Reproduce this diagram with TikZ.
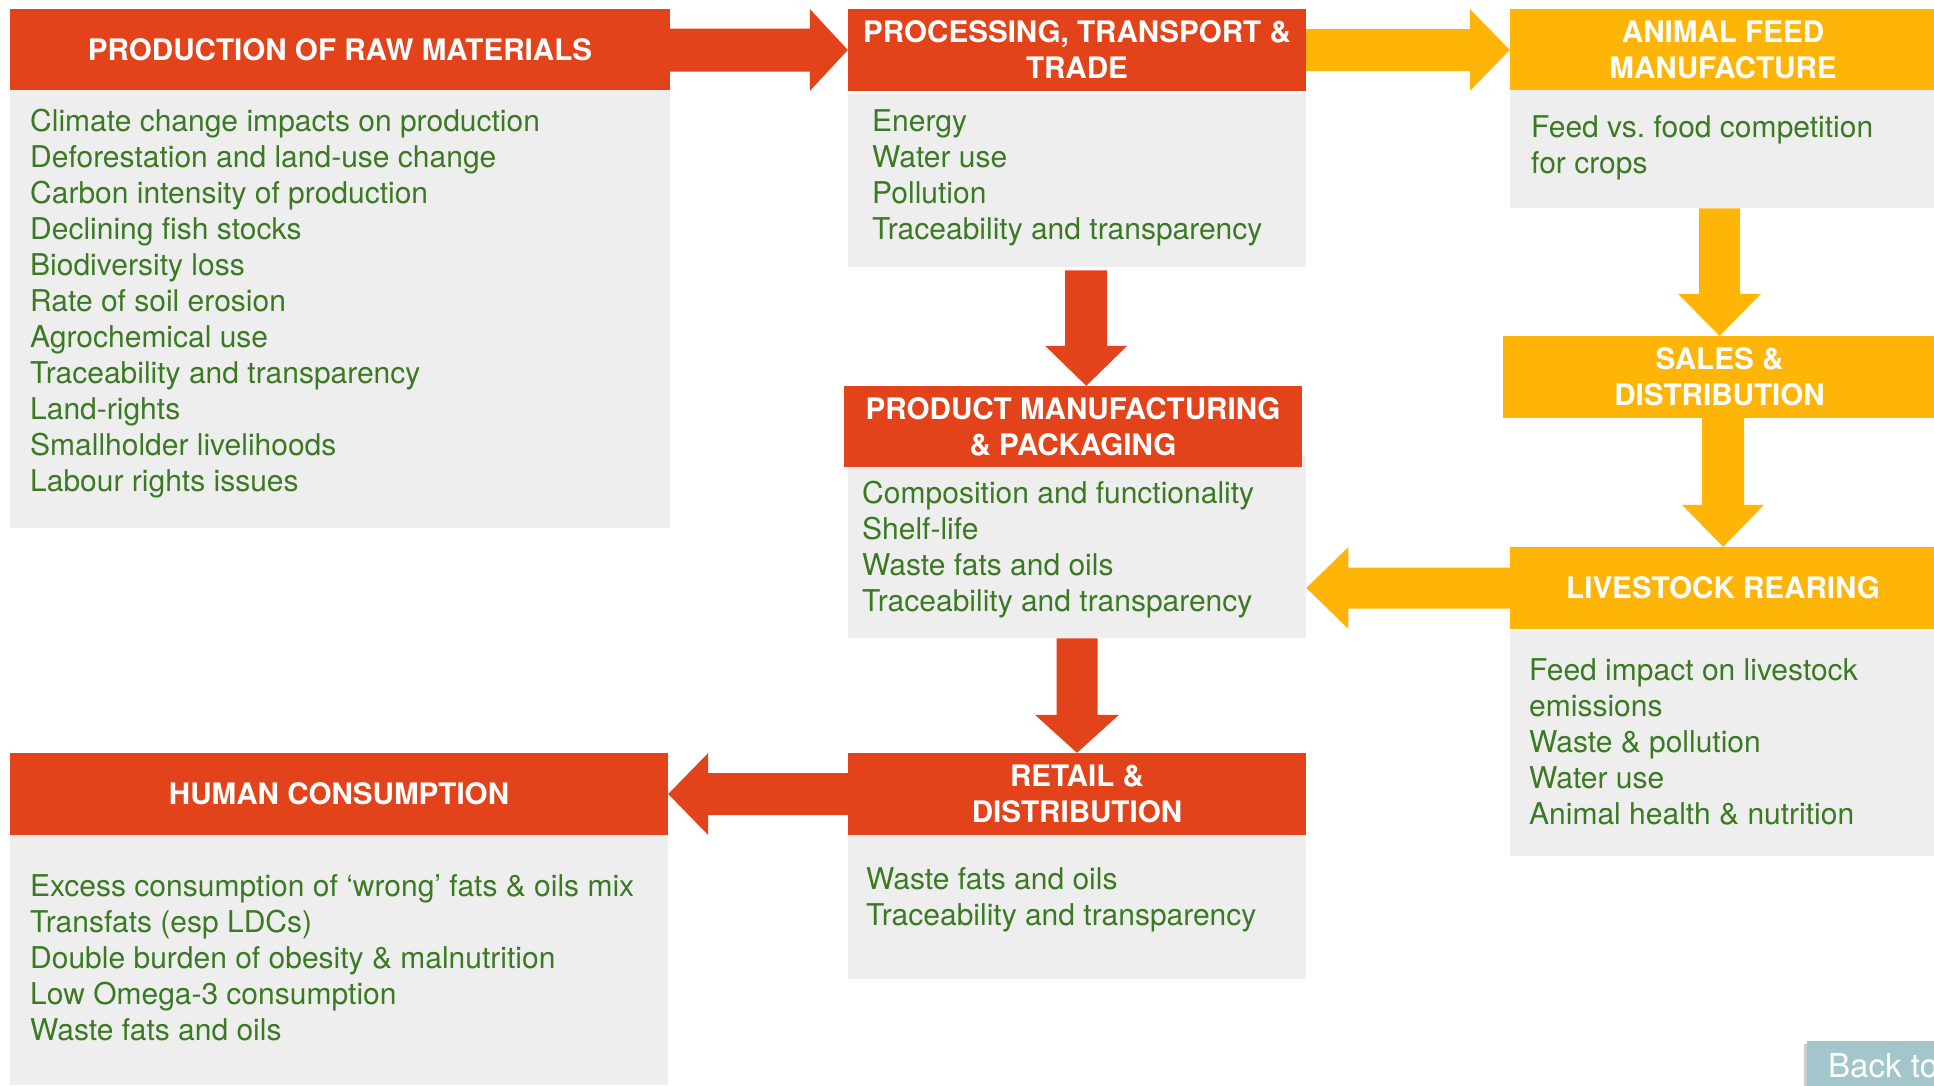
\documentclass[tikz,border=0pt]{standalone}
\usepackage{fontspec}
\setmainfont{TeX Gyre Heros}
\usetikzlibrary{calc}

\definecolor{hdrred}{HTML}{E3431B}
\definecolor{hdrgold}{HTML}{FEB508}
\definecolor{panel}{HTML}{EEEEEE}
\definecolor{issue}{HTML}{3B7A23}
\definecolor{backbtn}{HTML}{A3C6CC}

\tikzset{
  panelbox/.style={fill=panel, draw=none, inner sep=0pt, anchor=north west},
  header/.style={draw=none, inner sep=0pt, align=center, text=white,
    font=\fontsize{29.6}{36}\selectfont\bfseries},
  redhead/.style={header, fill=hdrred},
  goldhead/.style={header, fill=hdrgold},
  issues/.style={inner sep=0pt, anchor=base west, text=issue,
    font=\fontsize{30}{36}\selectfont},
}

% block arrows: colour, start, tip, head length, head half-width, shaft half-width
\newcommand\flowright[6]{%
  \fill[#1] ($(#2)+(0,-#6)$) -- ($(#3)+(-#4,-#6)$) -- ($(#3)+(-#4,-#5)$) -- (#3)
    -- ($(#3)+(-#4,#5)$) -- ($(#3)+(-#4,#6)$) -- ($(#2)+(0,#6)$) -- cycle;}
\newcommand\flowleft[6]{%
  \fill[#1] ($(#2)+(0,-#6)$) -- ($(#3)+(#4,-#6)$) -- ($(#3)+(#4,-#5)$) -- (#3)
    -- ($(#3)+(#4,#5)$) -- ($(#3)+(#4,#6)$) -- ($(#2)+(0,#6)$) -- cycle;}
\newcommand\flowdown[6]{%
  \fill[#1] ($(#2)+(-#6,0)$) -- ($(#3)+(-#6,-#4)$) -- ($(#3)+(-#5,-#4)$) -- (#3)
    -- ($(#3)+(#5,-#4)$) -- ($(#3)+(#6,-#4)$) -- ($(#2)+(#6,0)$) -- cycle;}

\newcommand\itemlines[1]{\parbox[t]{700pt}{\raggedright #1}}

\begin{document}
\begin{tikzpicture}[x=1pt, y=-1pt]
\useasboundingbox (0,0) rectangle (1934,1085);
\clip (0,0) rectangle (1934,1085);
\fill[white] (0,0) rectangle (1934,1085);

% ---- grey panels ----
\node[panelbox, minimum width=660pt, minimum height=438pt] (b1) at (10,90) {};
\node[panelbox, minimum width=458pt, minimum height=173pt] (b2) at (848,94) {};
\node[panelbox, minimum width=426pt, minimum height=118pt] (b3) at (1510,90) {};
\node[panelbox, minimum width=458pt, minimum height=183pt] (b4) at (848,455) {};
\node[panelbox, minimum width=426pt, minimum height=225pt] (bl) at (1510,631) {};
\node[panelbox, minimum width=458pt, minimum height=144pt] (br) at (848,835) {};
\node[panelbox, minimum width=658pt, minimum height=250pt] (bh) at (10,835) {};

% ---- headers ----
\node[redhead, minimum width=660pt, minimum height=81pt] (h1) at (340,49.5)
  {PRODUCTION OF RAW MATERIALS};
\node[redhead, minimum width=458pt, minimum height=82pt] (h2) at (1077,50)
  {PROCESSING, TRANSPORT \&\\TRADE};
\node[goldhead, minimum width=426pt, minimum height=81pt] (h3) at (1723,49.5)
  {ANIMAL FEED\\MANUFACTURE};
\node[goldhead, minimum width=433pt, minimum height=82pt] (hs) at (1719.5,377)
  {SALES \&\\DISTRIBUTION};
\node[goldhead, minimum width=426pt, minimum height=82pt] (hl) at (1723,588)
  {LIVESTOCK REARING};
\node[redhead, minimum width=458pt, minimum height=81pt] (h4) at (1073,426.5)
  {PRODUCT MANUFACTURING\\\& PACKAGING};
\node[redhead, minimum width=458pt, minimum height=82pt] (hr) at (1077,794)
  {RETAIL \&\\DISTRIBUTION};
\node[redhead, minimum width=658pt, minimum height=82pt] (hh) at (339,794)
  {HUMAN CONSUMPTION};

% ---- issue lists ----
\node[issues] (t1) at (30,131) {\itemlines{Climate change impacts on production\\
  Deforestation and land-use change\\Carbon intensity of production\\
  Declining fish stocks\\Biodiversity loss\\Rate of soil erosion\\
  Agrochemical use\\Traceability and transparency\\Land-rights\\
  Smallholder livelihoods\\Labour rights issues}};
\node[issues] (t2) at (872,131) {\itemlines{Energy\\Water use\\Pollution\\
  Traceability and transparency}};
\node[issues] (t3) at (1531,137) {\itemlines{Feed vs.\ food competition\\for crops}};
\node[issues] (t4) at (862,503) {\itemlines{Composition and functionality\\Shelf-life\\
  Waste fats and oils\\Traceability and transparency}};
\node[issues] (t5) at (1529,680) {\itemlines{Feed impact on livestock\\emissions\\
  Waste \& pollution\\Water use\\Animal health \& nutrition}};
\node[issues] (t6) at (866,889) {\itemlines{Waste fats and oils\\
  Traceability and transparency}};
\node[issues] (t7) at (30,896) {\itemlines{Excess consumption of ‘wrong’ fats \& oils mix\\
  Transfats (esp LDCs)\\Double burden of obesity \& malnutrition\\
  Low Omega-3 consumption\\Waste fats and oils}};

% ---- flow arrows ----
\coordinate (a1s) at (h1.east |- h2.west);
\flowright{hdrred}{a1s}{h2.west}{38}{41}{21.5}
\coordinate (a2t) at (h3.west |- h2.east);
\flowright{hdrgold}{h2.east}{a2t}{40}{41}{21}
\coordinate (a3s) at (hs.north |- b3.south);
\flowdown{hdrgold}{a3s}{hs.north}{42}{41.5}{20.5}
\coordinate (a4s) at (hl.north |- hs.south);
\flowdown{hdrgold}{a4s}{hl.north}{42}{41}{21}
\coordinate (a5t) at (b4.east |- hl.west);
\flowleft{hdrgold}{hl.west}{a5t}{42}{41}{20.5}
\coordinate (a6s) at ([xshift=9pt,yshift=-3pt]b2.south);
\coordinate (a6t) at (a6s |- h4.north);
\flowdown{hdrred}{a6s}{a6t}{40}{41}{21}
\flowdown{hdrred}{b4.south}{hr.north}{38}{42}{20.5}
\flowleft{hdrred}{hr.west}{hh.east}{40}{41}{21}

% ---- navigation button (runs off the page edge) ----
\fill[black!20] (1804,1044) rectangle (1940,1090);
\node[fill=backbtn, anchor=north west, minimum width=135pt, minimum height=50pt,
  inner sep=0pt] (back) at (1807,1041) {};
\node[anchor=base west, inner sep=0pt, text=white,
  font=\fontsize{33}{36}\selectfont] (backtxt) at (1828,1077) {Back to};
\end{tikzpicture}
\end{document}
